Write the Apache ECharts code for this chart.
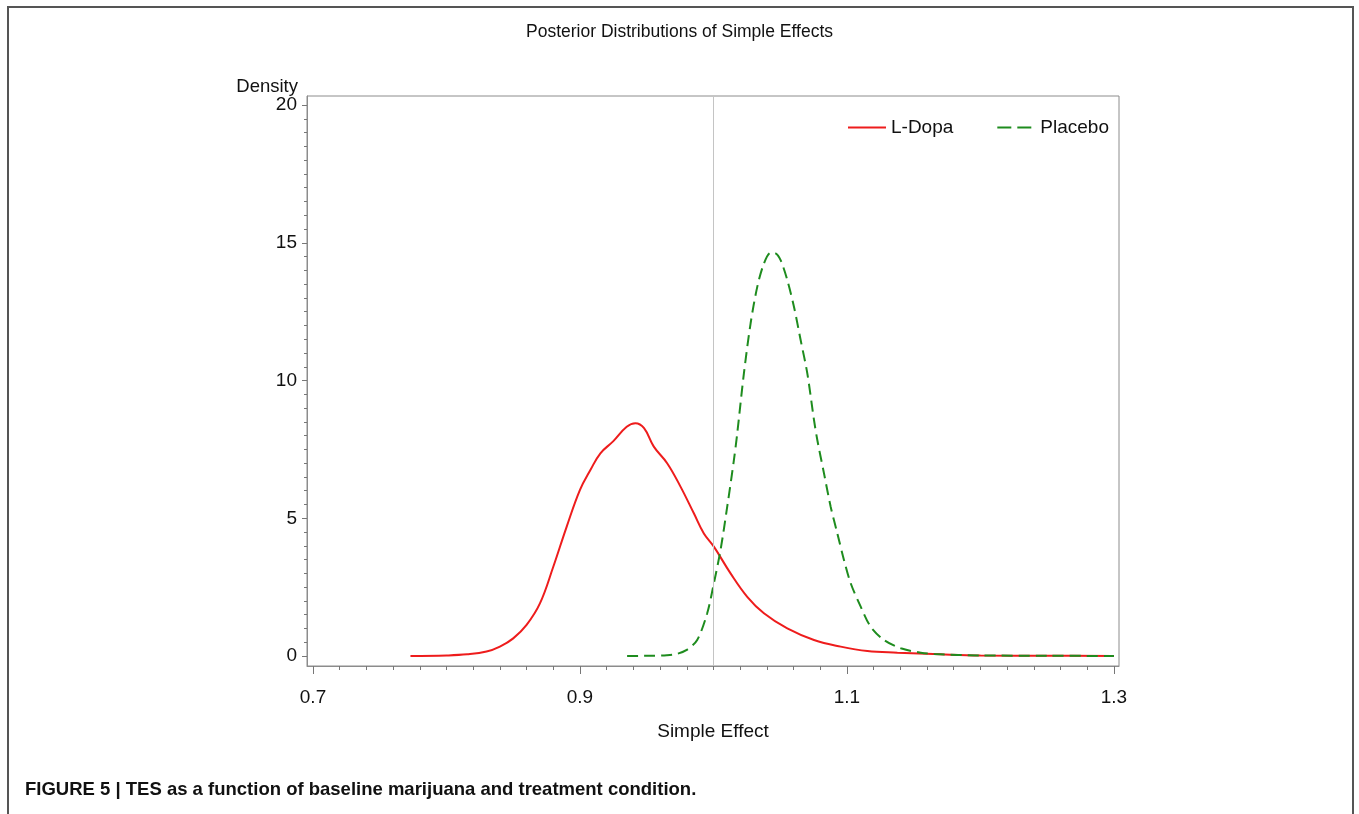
<!DOCTYPE html>
<html>
<head>
<meta charset="utf-8">
<script src="https://cdn.jsdelivr.net/npm/echarts@6/dist/echarts.min.js"></script>
<style>
html,body{margin:0;padding:0;background:#fff;}
#chart{width:1359px;height:814px;}
</style>
</head>
<body>
<div id="chart"></div>
<script>
// ---- data ----
const lDopaX = [0.773, 0.800, 0.8155, 0.830, 0.840, 0.850, 0.860, 0.870, 0.880, 0.890, 0.900, 0.9078, 0.9153, 0.925, 0.935, 0.9415, 0.948, 0.9553, 0.9653, 0.9753, 0.9853, 0.9928, 1.0003, 1.0128, 1.0253, 1.0378, 1.0553, 1.0753, 1.0953, 1.1153, 1.1378, 1.170, 1.200, 1.250, 1.300];
const lDopaY = [0.00, 0.02, 0.06, 0.16, 0.34, 0.64, 1.13, 1.91, 3.24, 4.69, 6.03, 6.75, 7.36, 7.80, 8.32, 8.45, 8.27, 7.60, 7.00, 6.15, 5.18, 4.45, 3.97, 3.00, 2.15, 1.55, 1.00, 0.58, 0.34, 0.18, 0.12, 0.06, 0.02, 0.01, 0.00];
const placeboX = [0.9353, 0.955, 0.965, 0.9728, 0.980, 0.9878, 0.9953, 1.0003, 1.0053, 1.0103, 1.0153, 1.0178, 1.0228, 1.0278, 1.0328, 1.0378, 1.0428, 1.0465, 1.0503, 1.0553, 1.0603, 1.0653, 1.0703, 1.0753, 1.0778, 1.0828, 1.0878, 1.0928, 1.0978, 1.1028, 1.1103, 1.1178, 1.1278, 1.1403, 1.1553, 1.1653, 1.200, 1.250, 1.300];
const placeboY = [0.00, 0.01, 0.03, 0.08, 0.22, 0.58, 1.55, 2.64, 3.85, 5.42, 7.11, 8.08, 10.26, 12.07, 13.40, 14.25, 14.64, 14.62, 14.37, 13.65, 12.68, 11.47, 10.26, 8.57, 7.84, 6.63, 5.42, 4.45, 3.48, 2.64, 1.79, 1.06, 0.58, 0.28, 0.12, 0.07, 0.02, 0.01, 0.00];
const seriesNames = ['L-Dopa', 'Placebo'];
const xTickLabels = [0.7, 0.9, 1.1, 1.3];
const yTickLabels = [0, 5, 10, 15, 20];
const refLineX = 1.0;
const titleText = 'Posterior Distributions of Simple Effects';
const xAxisName = 'Simple Effect';
const yAxisName = 'Density';
const captionText = 'FIGURE 5 | TES as a function of baseline marijuana and treatment condition.';

// ---- derived tick positions ----
const xMinor = [];
for (let i = 0; i <= 30; i++) xMinor.push(+(0.7 + i * 0.02).toFixed(2));
const yMinor = [];
for (let i = 0; i <= 40; i++) yMinor.push(i * 0.5);

const pair = (xs, ys) => xs.map((x, i) => [x, ys[i]]);

const FONT = '"Liberation Sans", Arial, sans-serif';
const AX = '#8c8c8c';
const RED = '#ee1c1c';
const GREEN = '#1e8c1e';

const chart = echarts.init(document.getElementById('chart'), null, {renderer: 'canvas'});
chart.setOption({
  animation: false,
  backgroundColor: '#fff',
  textStyle: {fontFamily: FONT},
  title: [
    {text: titleText, left: 'center', top: 18, textStyle: {fontSize: 17.5, fontWeight: 'normal', color: '#111', fontFamily: FONT}},
    {text: captionText, left: 20, top: 775, textStyle: {fontSize: 18.5, fontWeight: 'bold', color: '#111', fontFamily: FONT}}
  ],
  graphic: [{
    type: 'rect', silent: true, z: 0,
    shape: {x: 8, y: 7, width: 1345, height: 830},
    style: {fill: 'none', stroke: '#555', lineWidth: 2}
  }],
  legend: {
    top: 113, left: 842, itemGap: 43, itemWidth: 38, itemHeight: 20, orient: 'horizontal',
    textStyle: {fontSize: 19, color: '#111', fontFamily: FONT},
    data: [
      {name: seriesNames[0], itemStyle: {opacity: 0}, lineStyle: {color: RED, width: 2, type: 'solid'}},
      {name: seriesNames[1], itemStyle: {opacity: 0}, lineStyle: {color: GREEN, width: 2, type: [14, 6]}}
    ]
  },
  grid: {left: 307, right: 240, top: 96, bottom: 148, show: true, borderColor: AX, borderWidth: 1, backgroundColor: 'transparent'},
  xAxis: [{
    type: 'value', min: 0.6955, max: 1.3038, position: 'bottom',
    axisLine: {show: true, onZero: false, lineStyle: {color: AX}},
    axisTick: {show: true, customValues: xMinor, length: 4, lineStyle: {color: '#777'}},
    axisLabel: {show: false},
    splitLine: {show: false},
    name: xAxisName, nameLocation: 'middle', nameGap: 56,
    nameTextStyle: {fontSize: 19, color: '#111', fontFamily: FONT}
  }, {
    type: 'value', min: 0.6955, max: 1.3038, position: 'bottom',
    axisLine: {show: false, onZero: false},
    axisTick: {show: true, customValues: xTickLabels, length: 8, lineStyle: {color: '#777'}},
    axisLabel: {show: true, customValues: xTickLabels, margin: 22, fontSize: 19, color: '#111', fontFamily: FONT,
      formatter: v => String(v)},
    splitLine: {show: false}
  }],
  yAxis: [{
    type: 'value', min: -0.363, max: 20.33, position: 'left',
    axisLine: {show: true, onZero: false, lineStyle: {color: AX}},
    axisTick: {show: true, customValues: yMinor, length: 3, lineStyle: {color: '#777'}},
    axisLabel: {show: false},
    splitLine: {show: false},
    name: yAxisName, nameLocation: 'end', nameGap: 0,
    nameTextStyle: {fontSize: 18.5, color: '#111', fontFamily: FONT, align: 'right', padding: [0, 9, 0, 0]}
  }, {
    type: 'value', min: -0.363, max: 20.33, position: 'left',
    axisLine: {show: false, onZero: false},
    axisTick: {show: true, customValues: yTickLabels, length: 5, lineStyle: {color: '#777'}},
    axisLabel: {show: true, customValues: yTickLabels, margin: 10, fontSize: 19, color: '#111', fontFamily: FONT},
    splitLine: {show: false}
  }],
  series: [{
    name: seriesNames[0], type: 'line', xAxisIndex: 0, yAxisIndex: 0,
    data: pair(lDopaX, lDopaY), symbol: 'none', smooth: 0.4,
    lineStyle: {color: RED, width: 2},
    itemStyle: {color: RED},
    markLine: {
      silent: true, symbol: ['none', 'none'], label: {show: false},
      lineStyle: {color: '#c4c4c4', width: 1, type: 'solid'},
      data: [{xAxis: refLineX}]
    }
  }, {
    name: seriesNames[1], type: 'line', xAxisIndex: 0, yAxisIndex: 0,
    data: pair(placeboX, placeboY), symbol: 'none', smooth: 0.3,
    lineStyle: {color: GREEN, width: 2, type: [11, 6]},
    itemStyle: {color: GREEN}
  }]
});
</script>
</body>
</html>
